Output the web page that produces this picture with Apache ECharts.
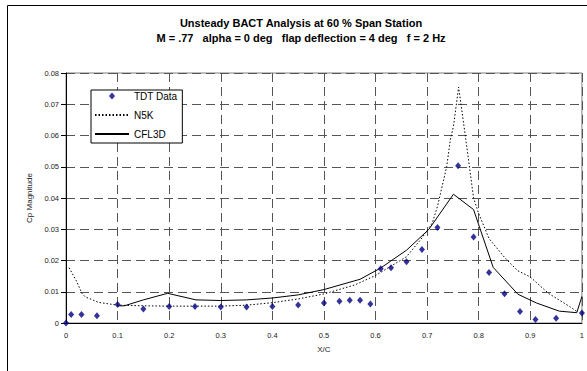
<!DOCTYPE html>
<html>
<head>
<meta charset="utf-8">
<script src="https://cdn.jsdelivr.net/npm/echarts@6/dist/echarts.min.js"></script>
<style>
  html, body { margin: 0; padding: 0; background: #fff; }
  #chart { width: 587px; height: 371px; }
</style>
</head>
<body>
<div id="chart"></div>
<script>
// Title lines
var titleLines = [
  'Unsteady BACT Analysis at 60 % Span Station',
  'M = .77   alpha = 0 deg   flap deflection = 4 deg   f = 2 Hz'
];

// TDT wind-tunnel measurements (chordwise station, Cp magnitude)
var tdtX  = [0, 0.01, 0.03, 0.06, 0.10, 0.15, 0.20, 0.25, 0.30, 0.35, 0.40, 0.45, 0.50, 0.53, 0.55,
             0.57, 0.59, 0.61, 0.63, 0.66, 0.69, 0.72, 0.76, 0.79, 0.82, 0.85, 0.88, 0.91, 0.95, 1.00];
var tdtCp = [0, 0.0027, 0.0027, 0.0023, 0.0059, 0.0045, 0.0053, 0.0053, 0.0051, 0.0051, 0.0053, 0.0058, 0.0064, 0.0070, 0.0073,
             0.0073, 0.0061, 0.0174, 0.0177, 0.0196, 0.0235, 0.0306, 0.0503, 0.0275, 0.0162, 0.0094, 0.0037, 0.0011, 0.0015, 0.0032];

// N5K prediction
var n5kX  = [0.006, 0.02, 0.031, 0.037, 0.063, 0.10, 0.15, 0.20, 0.25, 0.30, 0.35, 0.40, 0.45, 0.50, 0.56, 0.60,
             0.66, 0.69, 0.71, 0.72, 0.738, 0.745, 0.751, 0.761, 0.775, 0.79, 0.80, 0.82, 0.85, 0.875, 0.90, 0.935, 0.976, 0.99];
var n5kCp = [0.0177, 0.0135, 0.0095, 0.0084, 0.0066, 0.0057, 0.0055, 0.0054, 0.0054, 0.0054, 0.0057, 0.0065, 0.0077, 0.0093, 0.0122, 0.0152,
             0.0212, 0.0272, 0.0320, 0.0373, 0.0501, 0.0587, 0.0629, 0.0755, 0.0587, 0.0400, 0.0350, 0.0270, 0.0210, 0.0168, 0.0147, 0.0095, 0.0053, 0.0037];

// CFL3D prediction
var cflX  = [0.10, 0.113, 0.15, 0.197, 0.252, 0.30, 0.35, 0.40, 0.45, 0.50, 0.57, 0.61, 0.66, 0.703,
             0.751, 0.79, 0.828, 0.876, 0.912, 0.956, 0.99, 1.00];
var cflCp = [0.0055, 0.0055, 0.0074, 0.0095, 0.0074, 0.0072, 0.0074, 0.0080, 0.0090, 0.0107, 0.0140, 0.0176, 0.0233, 0.0299,
             0.0412, 0.0363, 0.0178, 0.0092, 0.0064, 0.0038, 0.0033, 0.0085];

// Axis ticks
var xTicks = ['0', '0.1', '0.2', '0.3', '0.4', '0.5', '0.6', '0.7', '0.8', '0.9', '1'];
var yTicks = ['0', '0.01', '0.02', '0.03', '0.04', '0.05', '0.06', '0.07', '0.08'];

function pairs(xs, ys) {
  return xs.map(function (x, i) { return [x, ys[i]]; });
}

var FONT = '"Liberation Sans", Arial, sans-serif';
var gridDash = { color: '#555', width: 1, type: [9, 5] };

// Legend diamond: the two leading move-to points span the full icon box,
// so the diamond keeps its own proportions inside it.
var legendDiamond = 'path://M0,0 M34,7 M17,0 L20,3.5 L17,7 L14,3.5 Z';

var chart = echarts.init(document.getElementById('chart'), null, { renderer: 'svg' });

chart.setOption({
  animation: false,
  backgroundColor: '#fff',
  textStyle: { fontFamily: FONT },
  graphic: [
    { type: 'rect', silent: true,
      shape: { x: 7.5, y: 5.5, width: 700, height: 500 },
      style: { fill: 'none', stroke: '#000', lineWidth: 1 } },
    { type: 'text', x: 301, y: 23,
      style: { text: titleLines[0], fontFamily: FONT, fontSize: 11, fontWeight: 'bold',
               fill: '#000', align: 'center', verticalAlign: 'middle' } },
    { type: 'text', x: 301, y: 38,
      style: { text: titleLines[1], fontFamily: FONT, fontSize: 11, fontWeight: 'bold',
               fill: '#000', align: 'center', verticalAlign: 'middle' } }
  ],
  grid: {
    left: 66, top: 73, width: 520, height: 250,
    show: true, backgroundColor: '#fff', borderColor: '#808080', borderWidth: 1
  },
  legend: {
    orient: 'vertical',
    left: 91, top: 90,
    padding: [1, 5, 4, 3],
    itemWidth: 34, itemHeight: 7, itemGap: 9,
    backgroundColor: '#fff',
    borderColor: '#000', borderWidth: 1,
    textStyle: { fontFamily: FONT, fontSize: 10, color: '#000' },
    data: [
      { name: 'TDT Data', icon: legendDiamond },
      { name: 'N5K', itemStyle: { opacity: 0 } },
      { name: 'CFL3D', itemStyle: { opacity: 0 } }
    ]
  },
  xAxis: {
    type: 'value', min: 0, max: 1, interval: 0.1,
    name: 'X/C', nameLocation: 'middle', nameGap: 22,
    nameTextStyle: { fontFamily: FONT, fontSize: 8, color: '#222' },
    axisLine: { lineStyle: { color: '#000', width: 1 } },
    axisTick: { show: false },
    axisLabel: {
      fontFamily: FONT, fontSize: 7.5, color: '#222', margin: 8,
      formatter: function (v) { return xTicks[Math.round(v * 10)]; }
    },
    splitLine: { show: true, lineStyle: gridDash }
  },
  yAxis: {
    type: 'value', min: 0, max: 0.08, interval: 0.01,
    name: 'Cp Magnitude', nameLocation: 'middle', nameGap: 29,
    nameTextStyle: { fontFamily: FONT, fontSize: 8, color: '#222' },
    axisLine: { show: true, lineStyle: { color: '#000', width: 1 } },
    axisTick: { show: true, inside: false, length: 5, lineStyle: { color: '#000' } },
    axisLabel: {
      fontFamily: FONT, fontSize: 7.5, color: '#222', margin: 7,
      formatter: function (v) { return yTicks[Math.round(v * 100)]; }
    },
    splitLine: { show: true, lineStyle: gridDash }
  },
  series: [
    {
      name: 'TDT Data', type: 'scatter',
      symbol: 'diamond', symbolSize: [6, 7],
      itemStyle: { color: '#000080' },
      data: pairs(tdtX, tdtCp), z: 5
    },
    {
      name: 'N5K', type: 'line', symbol: 'none',
      lineStyle: { color: '#000', width: 1, type: [1.5, 2] },
      itemStyle: { color: '#000' },
      data: pairs(n5kX, n5kCp), z: 3
    },
    {
      name: 'CFL3D', type: 'line', symbol: 'none',
      lineStyle: { color: '#000', width: 1, type: 'solid' },
      itemStyle: { color: '#000' },
      data: pairs(cflX, cflCp), z: 4
    }
  ]
});
</script>
</body>
</html>
